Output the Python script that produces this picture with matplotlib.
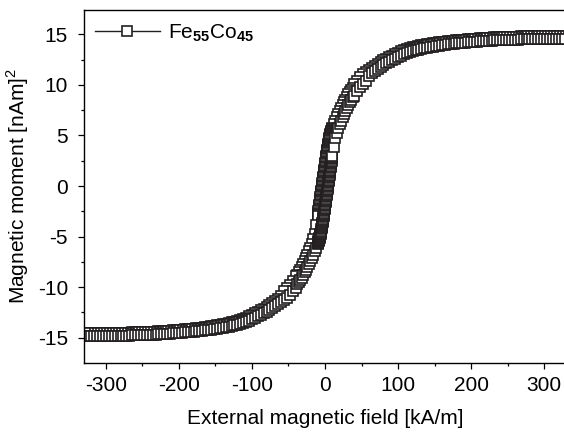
import matplotlib
matplotlib.use('Agg')
import matplotlib.pyplot as plt
from matplotlib.ticker import MultipleLocator

plt.rcParams['font.family'] = 'Liberation Sans'
plt.rcParams['mathtext.fontset'] = 'custom'
plt.rcParams['mathtext.rm'] = 'Liberation Sans'
plt.rcParams['mathtext.bf'] = 'Liberation Sans:bold'
plt.rcParams['axes.unicode_minus'] = False

# field steps of the sweep (kA/m), descending branch: +H -> -H
H_down = [328, 324, 320, 316, 312, 308, 304, 300, 296, 292,
          288, 284, 280, 276, 272, 268, 264, 260, 256, 252,
          248, 244, 240, 236, 232, 228, 224, 220, 216, 212,
          208, 204, 200, 196, 192, 188, 184, 180, 176, 172,
          168, 164, 160, 156, 152, 148, 144, 140, 136, 132,
          128, 124, 120, 116, 112, 108, 104, 100, 96, 92,
          88, 84, 80, 76, 72, 68, 64, 60, 56, 52,
          48, 44, 40,
          38, 36, 34, 32, 30, 28, 26, 24, 22, 20, 18, 16, 14, 12,
          10, 9.75, 9.5, 9.25, 9, 8.75, 8.5, 8.25, 8, 7.75,
          7.5, 7.25, 7, 6.75, 6.5, 6.25, 6, 5.75, 5.5, 5.25,
          5, 4.75, 4.5, 4.25, 4, 3.75, 3.5, 3.25, 3, 2.75,
          2.5, 2.25, 2, 1.75, 1.5, 1.25, 1, 0.75, 0.5, 0.25,
          0, -0.25, -0.5, -0.75, -1, -1.25, -1.5, -1.75, -2, -2.25,
          -2.5, -2.75, -3, -3.25, -3.5, -3.75, -4, -4.25, -4.5, -4.75,
          -5, -5.25, -5.5, -5.75, -6, -6.25, -6.5, -6.75, -7, -7.25,
          -7.5, -7.75, -8, -8.25, -8.5, -8.75, -9, -9.25, -9.5, -9.75, -10,
          -12, -14, -16, -18, -20, -22, -24, -26, -28, -30, -32, -34, -36, -38,
          -40, -44, -48, -52, -56, -60, -64, -68, -72, -76,
          -80, -84, -88, -92, -96, -100, -104, -108, -112, -116,
          -120, -124, -128, -132, -136, -140, -144, -148, -152, -156,
          -160, -164, -168, -172, -176, -180, -184, -188, -192, -196,
          -200, -204, -208, -212, -216, -220, -224, -228, -232, -236,
          -240, -244, -248, -252, -256, -260, -264, -268, -272, -276,
          -280, -284, -288, -292, -296, -300, -304, -308, -312, -316,
          -320, -324, -328]
M_down = [14.85, 14.85, 14.85, 14.85, 14.85, 14.85, 14.84, 14.84, 14.83, 14.83,
          14.82, 14.82, 14.81, 14.8, 14.8, 14.79, 14.78, 14.77, 14.76, 14.75,
          14.74, 14.73, 14.72, 14.7, 14.69, 14.67, 14.65, 14.64, 14.62, 14.6,
          14.58, 14.56, 14.53, 14.51, 14.48, 14.45, 14.42, 14.39, 14.36, 14.33,
          14.29, 14.25, 14.21, 14.19, 14.15, 14.11, 14.07, 14.02, 13.97, 13.91,
          13.85, 13.78, 13.71, 13.63, 13.53, 13.43, 13.31, 13.18, 13.02, 12.89,
          12.75, 12.6, 12.44, 12.27, 12.09, 11.89, 11.67, 11.43, 11.3, 11.03,
          10.73, 10.4, 10.05,
          9.7, 9.5, 9.3, 9.05, 8.8, 8.55, 8.3, 8.0, 7.7, 7.4, 7.1, 6.8, 6.45, 6.1,
          5.7, 5.65, 5.59, 5.53, 5.48, 5.42, 5.36, 5.3, 5.25, 5.18,
          5.11, 5.05, 4.98, 4.91, 4.84, 4.77, 4.7, 4.6, 4.5, 4.4,
          4.3, 4.2, 4.1, 4.0, 3.9, 3.79, 3.68, 3.56, 3.45, 3.34,
          3.23, 3.11, 3.0, 2.88, 2.75, 2.63, 2.5, 2.38, 2.25, 2.13,
          2.0, 1.88, 1.75, 1.63, 1.5, 1.38, 1.25, 1.13, 1.0, 0.88,
          0.75, 0.63, 0.5, 0.38, 0.25, 0.13, 0.0, -0.13, -0.25, -0.38,
          -0.5, -0.63, -0.75, -0.88, -1.0, -1.13, -1.25, -1.38, -1.5, -1.63,
          -1.75, -1.88, -2.0, -2.13, -2.25, -2.38, -2.5, -2.63, -2.75, -2.88, -3.0,
          -3.9, -4.7, -5.25, -5.7, -6.1, -6.45, -6.8, -7.1, -7.4, -7.7, -8.0, -8.3, -8.55, -8.8,
          -8.9, -9.35, -9.75, -10.1, -10.43, -10.87, -11.13, -11.37, -11.59, -11.79,
          -11.97, -12.14, -12.3, -12.45, -12.59, -12.72, -12.88, -13.01, -13.13, -13.23,
          -13.33, -13.41, -13.48, -13.55, -13.61, -13.67, -13.72, -13.77, -13.81, -13.85,
          -13.91, -13.95, -13.99, -14.03, -14.06, -14.09, -14.12, -14.15, -14.18, -14.21,
          -14.23, -14.26, -14.28, -14.3, -14.32, -14.34, -14.35, -14.37, -14.39, -14.4,
          -14.42, -14.43, -14.44, -14.45, -14.46, -14.47, -14.48, -14.49, -14.5, -14.5,
          -14.51, -14.52, -14.52, -14.53, -14.53, -14.54, -14.54, -14.55, -14.55, -14.55,
          -14.55, -14.55, -14.55]

# ascending branch: same field steps swept back, -H -> +H
H_up = H_down[::-1]
M_up = [-14.85, -14.85, -14.85, -14.85, -14.85, -14.85, -14.84, -14.84, -14.83, -14.83,
        -14.82, -14.82, -14.81, -14.8, -14.8, -14.79, -14.78, -14.77, -14.76, -14.75,
        -14.74, -14.73, -14.72, -14.7, -14.69, -14.67, -14.65, -14.64, -14.62, -14.6,
        -14.58, -14.56, -14.53, -14.51, -14.48, -14.45, -14.42, -14.39, -14.36, -14.33,
        -14.29, -14.25, -14.21, -14.19, -14.15, -14.11, -14.07, -14.02, -13.97, -13.91,
        -13.85, -13.78, -13.71, -13.63, -13.53, -13.43, -13.31, -13.18, -13.02, -12.89,
        -12.75, -12.6, -12.44, -12.27, -12.09, -11.89, -11.67, -11.43, -11.3, -11.03,
        -10.73, -10.4, -10.05,
        -9.7, -9.5, -9.3, -9.05, -8.8, -8.55, -8.3, -8.0, -7.7, -7.4, -7.1, -6.8, -6.45, -6.1,
        -5.7, -5.65, -5.59, -5.53, -5.48, -5.42, -5.36, -5.3, -5.25, -5.18,
        -5.11, -5.05, -4.98, -4.91, -4.84, -4.77, -4.7, -4.6, -4.5, -4.4,
        -4.3, -4.2, -4.1, -4.0, -3.9, -3.79, -3.68, -3.56, -3.45, -3.34,
        -3.23, -3.11, -3.0, -2.88, -2.75, -2.63, -2.5, -2.38, -2.25, -2.13,
        -2.0, -1.88, -1.75, -1.63, -1.5, -1.38, -1.25, -1.13, -1.0, -0.88,
        -0.75, -0.63, -0.5, -0.38, -0.25, -0.13, 0.0, 0.13, 0.25, 0.38,
        0.5, 0.63, 0.75, 0.88, 1.0, 1.13, 1.25, 1.38, 1.5, 1.63,
        1.75, 1.88, 2.0, 2.13, 2.25, 2.38, 2.5, 2.63, 2.75, 2.88, 3.0,
        3.9, 4.7, 5.25, 5.7, 6.1, 6.45, 6.8, 7.1, 7.4, 7.7, 8.0, 8.3, 8.55, 8.8,
        8.9, 9.35, 9.75, 10.1, 10.43, 10.87, 11.13, 11.37, 11.59, 11.79,
        11.97, 12.14, 12.3, 12.45, 12.59, 12.72, 12.88, 13.01, 13.13, 13.23,
        13.33, 13.41, 13.48, 13.55, 13.61, 13.67, 13.72, 13.77, 13.81, 13.85,
        13.91, 13.95, 13.99, 14.03, 14.06, 14.09, 14.12, 14.15, 14.18, 14.21,
        14.23, 14.26, 14.28, 14.3, 14.32, 14.34, 14.35, 14.37, 14.39, 14.4,
        14.42, 14.43, 14.44, 14.45, 14.46, 14.47, 14.48, 14.49, 14.5, 14.5,
        14.51, 14.52, 14.52, 14.53, 14.53, 14.54, 14.54, 14.55, 14.55, 14.55,
        14.55, 14.55, 14.55]

label = r'Fe$_{\mathbf{55}}$Co$_{\mathbf{45}}$'
ink = '#231f20'

fig = plt.figure(figsize=(5.64, 4.32), dpi=100)
ax = fig.add_axes([84 / 564, 1 - 362.5 / 432, 482 / 564, 353 / 432])

style = dict(color=ink, linewidth=1.0, marker='s', markersize=7,
             markerfacecolor='white', markeredgecolor=ink, markeredgewidth=1.2)
ax.plot(H_down, M_down, label=label, **style)
ax.plot(H_up, M_up, **style)

ax.set_xlim(-330, 330)
ax.set_ylim(-17.45, 17.45)
ax.xaxis.set_major_locator(MultipleLocator(100))
ax.xaxis.set_minor_locator(MultipleLocator(50))
ax.yaxis.set_major_locator(MultipleLocator(5))
ax.yaxis.set_minor_locator(MultipleLocator(2.5))
ax.tick_params(which='both', direction='out', top=False, right=False, width=0.9)
ax.tick_params(which='major', length=4.5, labelsize=15)
ax.tick_params(axis='x', which='major', pad=5)
ax.tick_params(axis='y', which='major', pad=7)
ax.tick_params(which='minor', length=2.5)
for sp in ax.spines.values():
    sp.set_linewidth(1.0)

ax.set_xlabel('External magnetic field [kA/m]', fontsize=15, labelpad=10)
ax.set_ylabel(r'Magnetic moment [nAm]$^2$', fontsize=15, labelpad=5)

ax.legend(loc='center left', bbox_to_anchor=(0.023, 0.933), frameon=False,
          handlelength=3.1, handletextpad=0.4, borderpad=0, borderaxespad=0,
          fontsize=15)

fig.savefig('out.png', dpi=100)
